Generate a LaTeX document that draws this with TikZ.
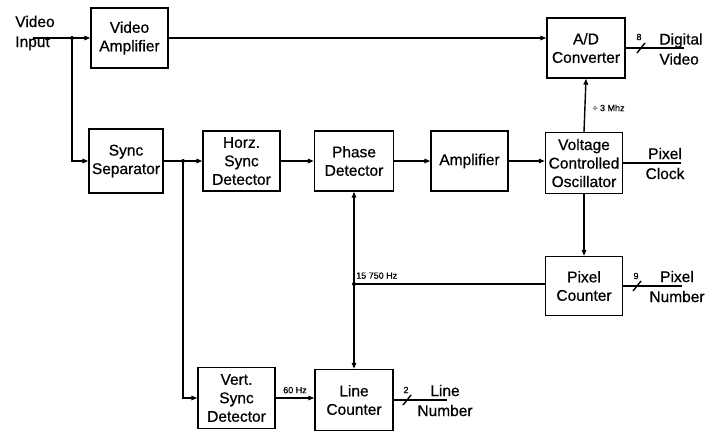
\documentclass[tikz,border=0pt]{standalone}
\usepackage{fontspec}
\setmainfont{Liberation Sans}[FakeBold=0.6]
\usetikzlibrary{arrows.meta}
\begin{document}
\begin{tikzpicture}[x=1pt,y=-1pt,
  blk/.style={draw,line width=1.4pt,align=center,inner sep=1pt,
    font=\fontsize{15.5}{18.5}\selectfont},
  wire/.style={line width=1.4pt},
  arr/.style={wire,-{Triangle[length=6pt,width=4.5pt]}},
  lbl/.style={font=\fontsize{15.5}{20}\selectfont,align=left,inner sep=0pt},
  small/.style={font=\fontsize{9}{10}\selectfont,inner sep=0pt},
  jdot/.style={circle,fill,inner sep=0pt,minimum size=4pt}]
\useasboundingbox (0,0) rectangle (709,436);
\fill[white] (0,0) rectangle (709,436);

% blocks
\node[blk,minimum width=77pt,minimum height=60pt] (VA) at (129.5,38) {Video\\Amplifier};
\node[blk,minimum width=78pt,minimum height=60pt] (AD) at (586,48) {A/D\\Converter};
\node[blk,minimum width=74pt,minimum height=64pt] (SS) at (126,161) {Sync\\Separator};
\node[blk,minimum width=77pt,minimum height=60pt] (HSD) at (241.5,161) {Horz.\\Sync\\Detector};
\node[blk,minimum width=79pt,minimum height=60pt] (PD) at (354,161) {Phase\\Detector};
\node[blk,minimum width=77pt,minimum height=60pt] (AMP) at (469.5,161) {Amplifier};
\node[blk,minimum width=77pt,minimum height=61pt] (VCO) at (584,163) {Voltage\\Controlled\\Oscillator};
\node[blk,minimum width=77pt,minimum height=59pt] (PC) at (584,286) {Pixel\\Counter};
\node[blk,minimum width=77pt,minimum height=61pt] (VSD) at (236.5,398) {Vert.\\Sync\\Detector};
\node[blk,minimum width=78pt,minimum height=61pt] (LC) at (354,400) {Line\\Counter};

% outside labels
\node[lbl] (vinl) at (35,33) {Video\\Input};
\node[lbl] (dvl) at (681,49) {Digital\\Video};
\node[lbl,align=center] (pcl) at (665,163.5) {Pixel\\Clock};
\node[lbl,align=center] (pnl) at (677,286.5) {Pixel\\Number};
\node[lbl,align=center] (lnl) at (445,400.5) {Line\\Number};

% coordinates
\coordinate (vin) at (33,38);
\node[jdot] (j1) at (72,38) {};
\node[jdot] (j2) at (183,161) {};
\node[jdot] (j3) at (354,284) {};
\coordinate (dvend) at (684,48);
\coordinate (pnend) at (682,286);
\coordinate (lnend) at (447,400);

% connectors
\draw[arr] (vin) -- (VA.west);
\draw[arr] (j1.center) |- (SS.west);
\draw[arr] (VA.east) -- (VA.east -| AD.west);
\draw[arr] (SS.east) -- (HSD.west);
\draw[arr] (j2.center) |- (VSD.west);
\draw[arr] (HSD.east) -- (PD.west);
\draw[arr] (PD.east) -- (AMP.west);
\draw[arr] (AMP.east) -- (AMP.east -| VCO.west);
\draw[arr] (VCO.north) -- node[small,right=7pt,pos=0.45] (mhz) {÷ 3 Mhz} (AD.south);
\draw[arr] (VCO.south) -- (PC.north);
\draw[wire] (VCO.east) -- ++(58,0) coordinate (pcend);
\draw[wire] (PC.west |- j3) -- (j3.center);
\node[small,anchor=south west] (hzl) at (356,279) {15 750 Hz};
\draw[arr] (j3.center) -- (PD.south);
\draw[arr] (j3.center) -- (LC.north);
\draw[arr] (VSD.east) -- node[small,above=4pt] (sixty) {60 Hz} (VSD.east -| LC.west);

% bus outputs
\draw[wire] (AD.east) -- (dvend);
\draw[wire] (637,53) -- (645,43);
\node[small] (n8) at (639,37) {8};
\draw[wire] (PC.east) -- (pnend);
\draw[wire] (633,291) -- (641,281);
\node[small] (n9) at (636,276) {9};
\draw[wire] (LC.east) -- (lnend);
\draw[wire] (403,405) -- (411,395);
\node[small] (n2) at (406,390) {2};
\end{tikzpicture}
\end{document}
